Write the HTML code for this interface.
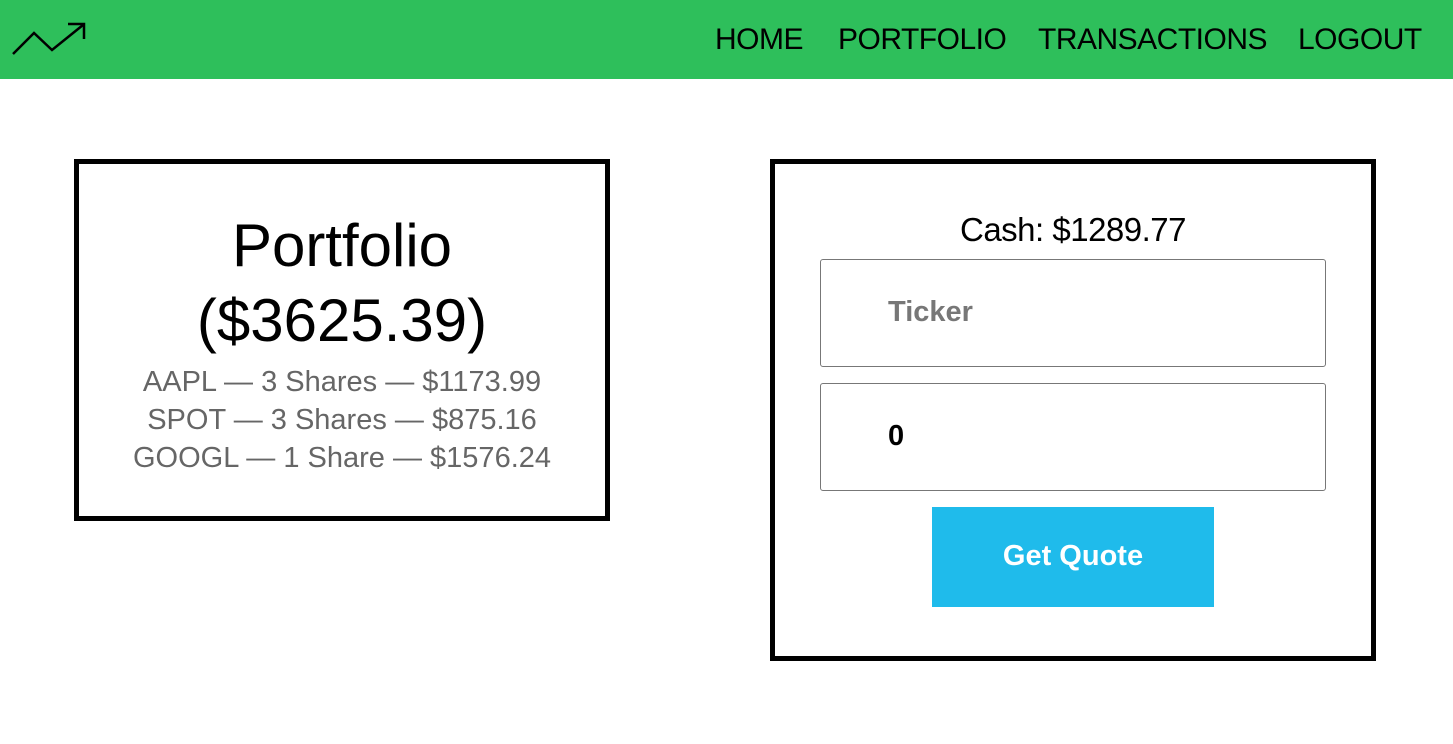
<!DOCTYPE html>
<html><head><meta charset="utf-8"><style>
*{margin:0;padding:0;box-sizing:border-box}
body{width:1453px;height:744px;background:#fff;font-family:"Liberation Sans",sans-serif;position:relative;overflow:hidden}
.nav{position:absolute;left:0;top:0;width:1453px;height:79px;background:#2ebf5b}
.nav a{position:absolute;top:22px;font-size:30px;color:#000;text-decoration:none;line-height:36px;letter-spacing:-0.5px}
.box{position:absolute;border:5px solid #000}
.c{position:absolute;left:0;width:100%;text-align:center}
.inp{position:absolute;left:820px;width:506px;height:108px;border:1px solid #777;border-radius:3px;font-weight:bold;font-size:29px;padding-left:67px;line-height:104px}
</style></head><body>
<div class="nav">
<svg style="position:absolute;left:10px;top:18px" width="80" height="42"><polyline points="3,36 24,15 42,32 73,7" fill="none" stroke="#000" stroke-width="2.5"/><polyline points="58,6 74,6 74,21" fill="none" stroke="#000" stroke-width="2.5"/></svg>
<a style="left:715px">HOME</a>
<a style="left:838px">PORTFOLIO</a>
<a style="left:1038px">TRANSACTIONS</a>
<a style="left:1298px">LOGOUT</a>
</div>
<div class="box" style="left:74px;top:159px;width:536px;height:362px">
<div class="c" style="top:44px;font-size:60px;line-height:75px">Portfolio<br>($3625.39)</div>
<div class="c" style="top:199px;font-size:29px;line-height:38px;color:#666">AAPL — 3 Shares — $1173.99<br>SPOT — 3 Shares — $875.16<br>GOOGL — 1 Share — $1576.24</div>
</div>
<div class="box" style="left:770px;top:159px;width:606px;height:502px">
<div class="c" style="top:46px;font-size:33px;line-height:40px;letter-spacing:-0.5px">Cash: $1289.77</div>
</div>
<div class="inp" style="top:259px;color:#777">Ticker</div>
<div class="inp" style="top:383px;color:#000">0</div>
<div style="position:absolute;left:932px;top:507px;width:282px;height:100px;background:#1fbbeb;color:#fff;font-weight:bold;font-size:29px;text-align:center;line-height:98px">Get Quote</div>
</body></html>
